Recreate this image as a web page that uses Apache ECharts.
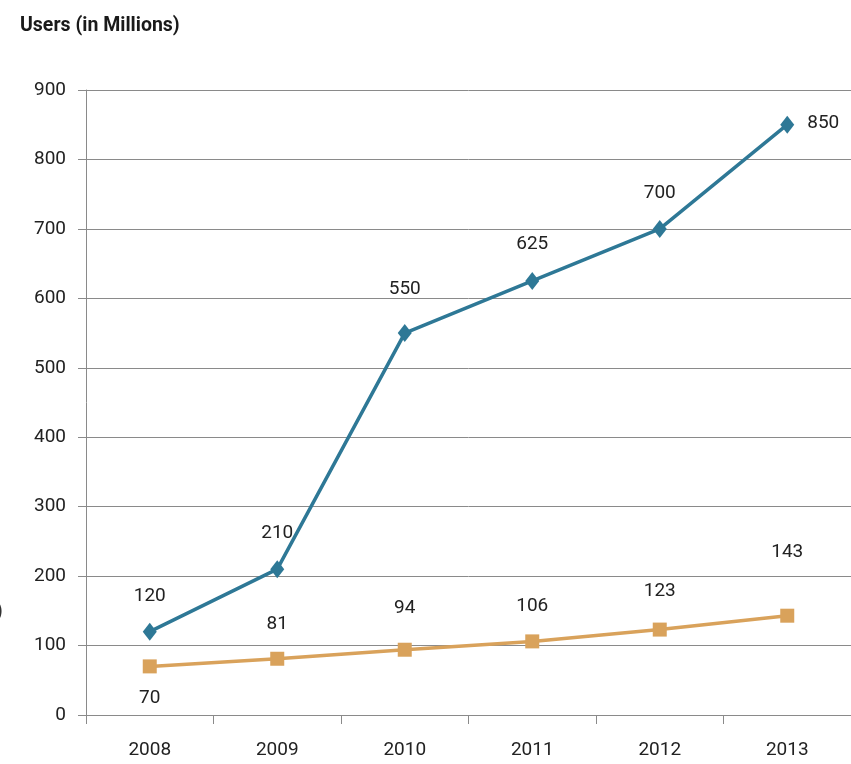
<!DOCTYPE html>
<html><head><meta charset="utf-8">
<script src="https://cdn.jsdelivr.net/npm/echarts@6/dist/echarts.min.js"></script>
<style>html,body{margin:0;padding:0;background:#fff}#c{width:851px;height:764px}</style>
</head><body><div id="c"></div>
<script>
const years = ['2008','2009','2010','2011','2012','2013'];
const seriesA = [120, 210, 550, 625, 700, 850];
const seriesB = [70, 81, 94, 106, 123, 143];
const yTicks = [0,100,200,300,400,500,600,700,800,900];

// label offsets (style only)
const offA = [[0,-35],[0,-36],[0,-44],[0,-37],[0,-36],[36,-1]];
const offB = [[0,32],[0,-35],[0,-41],[0,-35],[0,-38],[0,-63]];

const FONT = 'Roboto, "Open Sans", sans-serif';
const chart = echarts.init(document.getElementById('c'), null, {renderer:'canvas'});
function items(vals, offs){
  return vals.map((v,i)=>({value:v, label:{offset:offs[i]}}));
}
chart.setOption({
  animation:false,
  backgroundColor:'#fff',
  title:{text:'Users (in Millions)', left:15, top:11,
    textStyle:{fontFamily:'Roboto, sans-serif', fontWeight:'bold', fontSize:19.5, color:'#1a1a1a'}},
  graphic:[{type:'text', left:-4, top:602, style:{text:')', font:'20px '+FONT, fill:'#333'}}],
  grid:{left:86, top:90, width:771, height:625},
  xAxis:{type:'category', data:years, boundaryGap:true,
    axisLine:{lineStyle:{color:'#8a8a8a', width:1}},
    axisTick:{show:true, length:9, lineStyle:{color:'#8a8a8a'}},
    axisLabel:{fontFamily:FONT, fontSize:19, color:'#222', margin:26}},
  yAxis:{type:'value', min:0, max:900, interval:100,
    axisLine:{show:true, lineStyle:{color:'#8a8a8a'}},
    axisTick:{show:true, length:8, lineStyle:{color:'#8a8a8a'}},
    splitLine:{lineStyle:{color:'#8a8a8a', width:1}},
    axisLabel:{fontFamily:FONT, fontSize:19, color:'#222', margin:20}},
  series:[
    {type:'line', data:items(seriesA, offA), symbol:'diamond', symbolSize:[14,18],
      lineStyle:{color:'#2e7896', width:3.5}, itemStyle:{color:'#2e7896'},
      label:{show:true, position:'inside', fontFamily:FONT, fontSize:19, color:'#222'}},
    {type:'line', data:items(seriesB, offB), symbol:'rect', symbolSize:14,
      lineStyle:{color:'#d9a25b', width:3.5}, itemStyle:{color:'#d9a25b'},
      label:{show:true, position:'inside', fontFamily:FONT, fontSize:19, color:'#222'}}
  ]
});
</script></body></html>
